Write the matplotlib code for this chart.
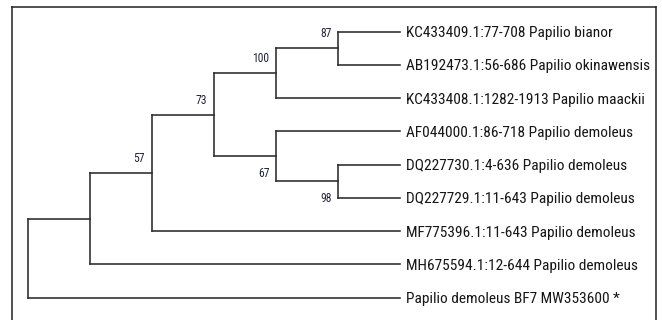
import matplotlib
matplotlib.use("Agg")
import matplotlib.pyplot as plt
from matplotlib.lines import Line2D

# ---- data ----
tip_labels = [
    "KC433409.1:77-708 Papilio bianor",
    "AB192473.1:56-686 Papilio okinawensis",
    "KC433408.1:1282-1913 Papilio maackii",
    "AF044000.1:86-718 Papilio demoleus",
    "DQ227730.1:4-636 Papilio demoleus",
    "DQ227729.1:11-643 Papilio demoleus",
    "MF775396.1:11-643 Papilio demoleus",
    "MH675594.1:12-644 Papilio demoleus",
    "Papilio demoleus BF7 MW353600 *",
]
# topology (tips referenced by index) with bootstrap support on internal nodes
newick = "((((((0,1)87,2)100,(3,(4,5)98)67)73,6)57,7),8);"
below_labels = [67, 98]   # supports drawn under the branch

# ---- parse newick ----
def parse(s):
    pos = 0
    def node():
        nonlocal pos
        if s[pos] == "(":
            pos += 1
            kids = [node()]
            while s[pos] == ",":
                pos += 1
                kids.append(node())
            pos += 1  # ')'
            lab = ""
            while pos < len(s) and s[pos] not in ",);":
                lab += s[pos]; pos += 1
            return {"kids": kids, "support": int(lab) if lab else None}
        lab = ""
        while s[pos] not in ",);":
            lab += s[pos]; pos += 1
        return {"tip": int(lab)}
    return node()

root = parse(newick)

def max_depth(n, d=0):
    if "tip" in n:
        return d
    return max(max_depth(k, d + 1) for k in n["kids"])

D = max_depth(root)

def layout(n, d=0):
    if "tip" in n:
        n["x"], n["y"] = D, n["tip"]
    else:
        for k in n["kids"]:
            layout(k, d + 1)
        n["x"] = d
        n["y"] = (n["kids"][0]["y"] + n["kids"][-1]["y"]) / 2.0

layout(root)

# ---- figure ----
W, H, DPI = 662, 320, 100
fig = plt.figure(figsize=(W / DPI, H / DPI), dpi=DPI)
fig.patch.set_facecolor("white")
ax = fig.add_axes([0, 0, 1, 1])
ax.set_axis_off()

px_x0, px_x1 = 27.5, 400.0
px_y0, px_y1 = 31.7, 297.7
sx = (px_x1 - px_x0) / D
sy = (px_y1 - px_y0) / (len(tip_labels) - 1)
ax.set_xlim(-px_x0 / sx, (W - px_x0) / sx)
ax.set_ylim((H - px_y0) / sy, -px_y0 / sy)

line_kw = dict(color="#2b2b2b", lw=1.15, solid_capstyle="projecting")
font = ["Roboto Condensed", "Liberation Sans", "DejaVu Sans"]
pt = 72.0 / DPI
renderer = fig.canvas.get_renderer()

def fit_size(text, target_px, base=10.0):
    t = fig.text(0, 0, text, fontsize=base, family=font)
    w = t.get_window_extent(renderer).width
    t.remove()
    return base * target_px / w

tip_size = fit_size(tip_labels[1], 243.0)
sup_size = fit_size("100", 17.0)

def draw(n):
    if "tip" in n:
        ax.annotate(tip_labels[n["tip"]], (n["x"], n["y"]), xytext=(6.0 * pt, 0),
                    textcoords="offset points", ha="left", va="center_baseline",
                    fontsize=tip_size, family=font, color="#161616")
        return
    ys = [k["y"] for k in n["kids"]]
    ax.plot([n["x"], n["x"]], [min(ys), max(ys)], **line_kw)
    for k in n["kids"]:
        ax.plot([n["x"], k["x"]], [k["y"], k["y"]], **line_kw)
        draw(k)

draw(root)

def supports(n):
    if "tip" in n:
        return
    if n.get("support") is not None:
        s = n["support"]
        dy = 17.0 if s in below_labels else -14.5
        ax.annotate(str(s), (n["x"], n["y"]), xytext=(-6.5 * pt, -dy * pt),
                    textcoords="offset points", ha="right", va="center",
                    fontsize=sup_size, family=font, color="#23233a")
    for k in n["kids"]:
        supports(k)

supports(root)

# frame (left, top, right edges)
fx0, fx1, fy0 = 11.5 / W, 655.5 / W, 1 - 6.5 / H
for xs, ys in [([fx0, fx0], [0, fy0]), ([fx0, fx1], [fy0, fy0]), ([fx1, fx1], [fy0, 0])]:
    fig.add_artist(Line2D(xs, ys, transform=fig.transFigure, color="#222222", lw=1.1))

fig.savefig("out.png", dpi=DPI, facecolor="white")
